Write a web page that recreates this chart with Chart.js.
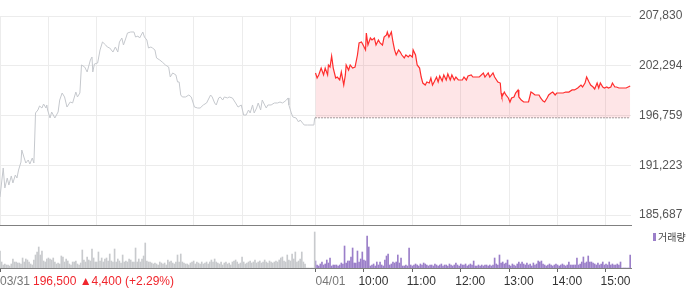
<!DOCTYPE html>
<html>
<head>
<meta charset="utf-8">
<script src="https://cdn.jsdelivr.net/npm/chart.js@4.4.1/dist/chart.umd.min.js"></script>
<style>
  html, body { margin: 0; padding: 0; background: #fff; }
  #wrap { position: relative; width: 700px; height: 289px; }
  #priceChart { position: absolute; left: 0; top: 0; }
  #volumeChart { position: absolute; left: 0; top: 226px; }
</style>
</head>
<body>
<div id="wrap">
  <canvas id="priceChart" width="700" height="226"></canvas>
  <canvas id="volumeChart" width="700" height="63"></canvas>
</div>
<script>
    // 03/31 (gray) intraday prices
    const day1Times = ["09:00","09:04","09:06","09:09","09:11","09:14","09:16","09:19","09:21","09:23",
        "09:26","09:27","09:30","09:32","09:35","09:37","09:40","09:42","09:43","09:44",
        "09:47","09:49","09:52","09:54","09:57","09:58","09:59","10:02","10:04","10:08",
        "10:12","10:14","10:17","10:20","10:23","10:27","10:30","10:34","10:36","10:39",
        "10:41","10:45","10:48","10:50","10:52","10:54","10:55","10:57","11:01","11:04",
        "11:07","11:11","11:13","11:16","11:20","11:23","11:26","11:28","11:31","11:33",
        "11:36","11:38","11:42","11:46","11:48","11:51","11:53","11:57","11:59","12:02",
        "12:04","12:07","12:09","12:12","12:14","12:18","12:21","12:25","12:29","12:31",
        "12:34","12:38","12:40","12:42","12:44","12:46","12:50","12:54","12:57","13:01",
        "13:05","13:08","13:12","13:16","13:21","13:23","13:26","13:28","13:31","13:33",
        "13:36","13:38","13:42","13:44","13:48","13:52","13:55","13:59","14:02","14:05",
        "14:08","14:10","14:13","14:15","14:18","14:20","14:23","14:25","14:28","14:30",
        "14:32","14:36","14:40","14:44","14:47","14:50","14:52","14:55","14:57","14:58",
        "15:01","15:03","15:07","15:10","15:12","15:15","15:17","15:21","15:29","15:30"];
    const day1Prices = [187690,190920,188690,189800,189020,190030,189250,190140,189800,190690,
        191580,192920,192030,191470,191810,191360,192030,191470,194030,197040,
        197370,197820,197590,198040,197590,197930,197370,196480,197150,196480,
        197150,198480,199260,198820,197700,198260,198150,199370,198820,199260,
        202380,202150,201600,202270,202930,203270,201600,202490,202600,204050,
        204940,204600,204380,204270,203820,204380,203820,204940,205380,204600,
        205380,205940,206050,206050,205490,205600,205380,206050,205490,205160,
        204270,204380,204270,204050,203160,202930,202710,202380,202150,201040,
        201490,201270,200490,200490,199040,198820,198820,199040,198820,197700,
        197590,197590,197930,198150,199040,198820,198150,197930,198710,198820,
        198480,198820,198710,198820,198710,198150,197700,197930,196810,196810,
        197370,197040,197930,197040,197590,198150,197370,198480,197930,197590,
        197930,197930,198150,198150,198260,198150,198260,198480,198710,197930,
        197040,196590,196480,196040,196260,195920,195700,195700,195700,196500];

    // 04/01 (red) intraday prices
    const day2Times = ["09:00","09:02","09:04","09:07","09:10","09:12","09:15","09:16","09:18","09:20",
        "09:22","09:25","09:27","09:30","09:32","09:35","09:37","09:38","09:41","09:43",
        "09:46","09:49","09:52","09:54","09:57","09:59","10:02","10:03","10:05","10:08",
        "10:10","10:13","10:15","10:18","10:20","10:23","10:25","10:28","10:29","10:31",
        "10:34","10:36","10:38","10:40","10:43","10:45","10:47","10:50","10:52","10:55",
        "10:57","11:00","11:01","11:04","11:06","11:09","11:11","11:13","11:16","11:18",
        "11:21","11:23","11:25","11:27","11:30","11:32","11:34","11:37","11:39","11:42",
        "11:44","11:47","11:49","11:52","11:54","11:57","11:59","12:02","12:04","12:07",
        "12:09","12:13","12:15","12:19","12:23","12:28","12:30","12:34","12:36","12:40",
        "12:42","12:46","12:49","12:50","12:51","12:54","12:56","12:59","13:01","13:03",
        "13:06","13:08","13:11","13:12","13:15","13:18","13:22","13:24","13:27","13:29",
        "13:32","13:34","13:37","13:39","13:42","13:44","13:47","13:49","13:52","13:54",
        "13:57","13:59","14:03","14:07","14:10","14:14","14:18","14:21","14:25","14:29",
        "14:31","14:34","14:36","14:39","14:41","14:44","14:46","14:49","14:51","14:53",
        "14:56","14:58","15:01","15:03","15:06","15:08","15:11","15:13","15:16","15:19",
        "15:23","15:25","15:30"];
    const day2Prices = [201490,200930,201270,202040,201270,202040,201270,202380,202150,203380,
        202040,200930,201040,200710,201600,200150,201270,202380,201820,202380,
        202040,202150,203490,204830,204940,204600,204050,205940,204600,205380,
        205160,205380,204600,205160,204830,204600,205490,205720,206050,205490,
        206050,204940,204050,203490,204050,203820,203490,203160,203490,203270,
        203490,203270,204050,203490,202380,202040,201040,200370,200150,200490,
        200370,200930,200150,200490,201040,200490,201150,200600,201270,200710,
        201380,200710,201270,200710,201040,200710,200710,200710,201040,200710,
        201150,201270,201040,201040,201040,201490,201040,201490,201040,201490,
        201040,200490,200370,199260,198820,199370,199040,198710,198260,198710,
        198820,199260,199600,198820,198480,198260,198260,198260,199370,199260,
        199040,199040,199040,198710,198370,198260,198710,199040,199260,199370,
        199040,199260,199260,199260,199370,199370,199600,199600,199820,200150,
        199930,200370,201040,200490,200150,199930,199710,200370,199820,200370,
        199930,199820,199930,199820,199930,200370,199930,199930,199820,199820,
        199820,199820,200040];

    // volume, one value per 2-minute bin from 09:00 to 15:30
    const day1Volume = [17,6,3,4,3,3,2,4,9,6, 6,5,5,4,10,6,9,8,6,4,
        3,8,13,16,21,13,17,7,6,9, 10,9,8,10,6,4,5,4,12,11,
        6,9,7,4,3,6,6,7,4,3, 5,18,8,6,11,8,7,19,10,6,
        6,16,7,10,6,9,10,7,14,7, 6,19,6,9,7,5,13,6,7,6,
        9,8,6,6,20,6,9,6,9,12, 25,7,6,6,5,4,
        5,4,3,6,5,4,5,3,8,6, 7,5,4,6,13,6,14,6,5,4,
        4,3,5,6,7,4,6,5,4,6, 4,5,6,4,6,8,6,9,6,5,
        4,6,3,5,6,4,5,3,6,7, 8,6,4,5,11,6,4,5,6,7,
        5,6,8,5,6,7,5,6,8,6, 5,7,6,5,6,7,6,8,10,11,
        7,6,13,8,7,14,9,16,6,7, 9,16,6,4,0,0,0,0,0,36];
    const day2Volume = [7,3,2,4,6,3,4,8,5,10, 2,3,3,3,2,3,5,4,22,5,
        7,7,11,20,5,5,17,6,9,16, 8,7,32,21,2,3,4,2,6,3,
        6,3,2,8,12,14,3,4,6,5, 6,13,5,10,2,2,3,2,20,3,
        2,3,4,3,2,4,3,5,4,3, 2,3,3,2,4,3,2,3,4,2,
        3,3,2,4,3,2,3,5,3,2, 4,3,3,4,2,3,4,3,7,2,
        2,3,2,3,2,3,3,2,3,2, 3,10,4,3,13,5,6,4,5,8,
        3,2,4,3,2,4,6,4,6,4, 3,5,3,4,2,5,3,4,7,6,
        7,4,3,2,3,4,3,2,3,4, 3,2,3,4,3,2,3,6,3,3,
        3,3,10,3,4,6,11,5,6,12, 6,6,5,4,3,5,3,4,6,3,
        4,3,6,3,4,3,3,4,3,6, 0,0,0,0,0,13];

    const yTicks = [185687, 191223, 196759, 202294, 207830];
    const gridHours = ["09:00","10:00","11:00","12:00","13:00","14:00","15:00"];
    const hourLabels = ["10:00","11:00","12:00","13:00","14:00","15:00"];
    const prevClose = 196500;
    const day1Label = "03/31";
    const day2Label = "04/01";
    const summaryLabel = "196,500 \u25B24,400 (+2.29%)";
    const volumeLabel = "거래량";

    const dayMinutes = 391; // 09:00 .. 15:30 inclusive
    const xMax = 782;
    const yMin = 184575;
    const yMax = 207830;
    const volMax = 42;
    const labelFont = '"Liberation Sans", Arial, sans-serif';

    function toX(time, offset) {
        const [h, m] = time.split(":").map(Number);
        return offset + (h - 9) * 60 + m;
    }

    const day1Points = day1Times.map((t, i) => ({ x: toX(t, 0), y: day1Prices[i] }));
    const day2Points = day2Times.map((t, i) => ({ x: toX(t, dayMinutes), y: day2Prices[i] }));
    const baseLine = [
        { x: dayMinutes, y: prevClose },
        { x: day2Points[day2Points.length - 1].x, y: prevClose },
    ];
    const day1Bars = day1Volume.map((v, i) => ({ x: i * 2, y: v }));
    const day2Bars = day2Volume.map((v, i) => ({ x: dayMinutes + i * 2, y: v }));

    const gridMinutes = gridHours.map(t => toX(t, 0))
        .concat(gridHours.map(t => toX(t, dayMinutes)));
    const tickMinutes = [0, dayMinutes].concat(hourLabels.map(t => toX(t, dayMinutes)));

    const priceCtx = document.getElementById("priceChart").getContext("2d");
    const priceChart = new Chart(priceCtx, {
        type: "line",
        data: {
            datasets: [
                {
                    data: baseLine,
                    borderColor: "#444",
                    borderWidth: 1,
                    borderDash: [1, 2],
                    pointRadius: 0,
                    fill: false,
                },
                {
                    data: day1Points,
                    borderColor: "#c5c8cd",
                    borderWidth: 1,
                    pointRadius: 0,
                    fill: false,
                },
                {
                    data: day2Points,
                    borderColor: "#ff2d2d",
                    borderWidth: 1.2,
                    pointRadius: 0,
                    fill: { value: prevClose },
                    backgroundColor: "rgba(245, 40, 60, 0.12)",
                },
            ],
        },
        options: {
            responsive: false,
            animation: false,
            layout: { padding: { top: 16, bottom: 1, left: 0, right: 0 } },
            plugins: { legend: { display: false }, tooltip: { enabled: false } },
            scales: {
                x: {
                    type: "linear",
                    min: 0,
                    max: xMax,
                    afterBuildTicks: s => { s.ticks = gridMinutes.map(v => ({ value: v })); },
                    afterFit: s => { s.height = 0; },
                    grid: { color: "#ececec", drawTicks: false },
                    border: { display: true, color: "#808080" },
                    ticks: { display: false },
                },
                y: {
                    position: "right",
                    min: yMin,
                    max: yMax,
                    afterBuildTicks: s => { s.ticks = yTicks.map(v => ({ value: v })); },
                    afterFit: s => { s.width = 69; s.paddingTop = 0; s.paddingBottom = 0; },
                    grid: { color: "#ececec", drawTicks: false },
                    border: { display: false },
                    ticks: {
                        padding: 8,
                        color: "#555",
                        font: { family: labelFont, size: 12 },
                        callback: v => v.toLocaleString("en-US"),
                    },
                },
            },
        },
    });

    // bottom labels and legend of the volume panel
    const axisLabels = {
        id: "axisLabels",
        afterDraw(chart) {
            const { ctx, scales: { x } } = chart;
            const y = 56;
            ctx.save();
            ctx.textBaseline = "middle";
            ctx.textAlign = "left";
            ctx.font = "12px " + labelFont;
            ctx.fillStyle = "#777";
            ctx.fillText(day1Label, 0, y);
            ctx.fillStyle = "#f0262d";
            ctx.fillText(summaryLabel, 33, y);
            ctx.fillStyle = "#777";
            ctx.fillText(day2Label, x.getPixelForValue(dayMinutes), y);
            ctx.fillStyle = "#333";
            hourLabels.forEach(t => {
                ctx.fillText(t, x.getPixelForValue(toX(t, dayMinutes)) - 5.5, y);
            });
            ctx.fillStyle = "#9b7fc9";
            ctx.fillRect(653, 7, 3, 8);
            ctx.fillStyle = "#444";
            ctx.font = '10px "Noto Sans CJK KR", sans-serif';
            ctx.fillText(volumeLabel, 658, 11);
            ctx.restore();
        },
    };

    const volumeCtx = document.getElementById("volumeChart").getContext("2d");
    const volumeChart = new Chart(volumeCtx, {
        type: "bar",
        data: {
            datasets: [
                { data: day1Bars, backgroundColor: "#c8cacd", barThickness: 1, grouped: false },
                { data: day2Bars, backgroundColor: "#9b7fc9", barThickness: 1, grouped: false },
            ],
        },
        options: {
            responsive: false,
            animation: false,
            layout: { padding: 0 },
            plugins: { legend: { display: false }, tooltip: { enabled: false } },
            scales: {
                x: {
                    type: "linear",
                    min: 0,
                    max: xMax,
                    offset: false,
                    afterBuildTicks: s => { s.ticks = tickMinutes.map(v => ({ value: v })); },
                    afterFit: s => { s.height = 21; },
                    grid: { offset: false, drawOnChartArea: false, drawTicks: true, tickLength: 4, color: "#666" },
                    border: { display: true, color: "#808080" },
                    ticks: { display: false },
                },
                y: {
                    position: "right",
                    min: 0,
                    max: volMax,
                    afterFit: s => { s.width = 69; },
                    grid: { display: false },
                    border: { display: false },
                    ticks: { display: false },
                },
            },
        },
        plugins: [axisLabels],
    });
</script>
</body>
</html>
